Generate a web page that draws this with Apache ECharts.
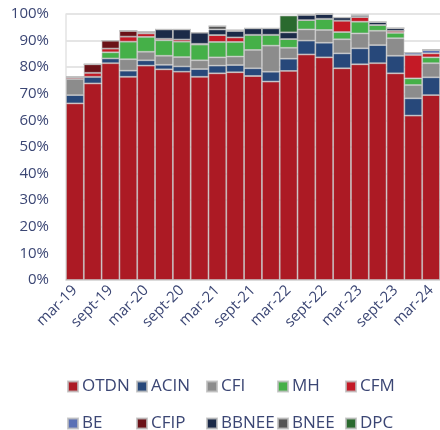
<!DOCTYPE html>
<html>
<head>
<meta charset="utf-8">
<script src="https://cdn.jsdelivr.net/npm/echarts@6/dist/echarts.min.js"></script>
<style>
  html, body { margin: 0; padding: 0; background: #fff; }
  #main { width: 440px; height: 430px; }
</style>
</head>
<body>
<div id="main"></div>
<script>
var periods = ["mar-19", "jun-19", "sept-19", "dec-19", "mar-20", "jun-20", "sept-20", "dec-20",
  "mar-21", "jun-21", "sept-21", "dec-21", "mar-22", "jun-22", "sept-22", "dec-22",
  "mar-23", "jun-23", "sept-23", "dec-23", "mar-24"];

// shares in %
var otdn  = [66.4, 73.9, 81.5, 76.4, 80.6, 79.2, 78.3, 76.4, 77.7, 78.1, 76.7, 74.6, 78.6, 84.8, 83.7, 79.6, 81.1, 81.5, 77.7, 61.8, 69.5];
var acin  = [3.1, 2.5, 1.8, 2.3, 2.0, 1.7, 2.0, 2.9, 2.9, 2.7, 2.9, 3.7, 4.6, 5.2, 5.5, 5.6, 6.0, 6.8, 6.6, 6.5, 6.7];
var cfi   = [6.1, 0, 0, 4.3, 3.2, 3.4, 3.5, 3.3, 3.1, 3.2, 6.9, 9.8, 4.1, 4.2, 4.8, 5.3, 5.6, 5.4, 6.6, 5.0, 5.3];
var mh    = [0, 0, 2.3, 6.6, 5.6, 5.8, 5.8, 5.9, 5.8, 5.5, 5.7, 4.1, 3.3, 3.5, 4.2, 2.7, 4.4, 2.2, 2.0, 2.5, 2.2];
var cfm   = [0.7, 1.5, 1.4, 1.9, 1.3, 0.6, 0.8, 0.3, 2.6, 1.7, 0, 0, 0, 0, 0, 4.3, 1.8, 0, 0.8, 8.8, 1.5];
var be    = [0, 0, 0, 0, 0, 0, 0, 0, 0, 0, 0, 0, 0, 0, 0, 0, 0, 0, 0, 0.9, 1.3];
var cfip  = [0, 3.2, 3.0, 2.2, 0.6, 0, 0, 0, 0, 0, 0, 0, 0, 0, 0, 0, 0, 0, 0, 0, 0];
var bbnee = [0, 0, 0, 0, 0, 3.5, 3.8, 4.2, 2.1, 2.4, 2.4, 2.4, 2.5, 2.0, 1.8, 1.2, 0.7, 1.1, 1.0, 0, 0];
var bnee  = [0, 0, 0, 0, 0, 0, 0, 0, 1.3, 0.4, 0, 0, 0, 0, 0, 0, 0, 0, 0, 0, 0];
var dpc   = [0, 0, 0, 0, 0, 0, 0, 0, 0, 0, 0, 0, 6.3, 0, 0, 0, 0, 0, 0, 0, 0];

var names  = ["OTDN", "ACIN", "CFI", "MH", "CFM", "BE", "CFIP", "BBNEE", "BNEE", "DPC"];
var values = [otdn, acin, cfi, mh, cfm, be, cfip, bbnee, bnee, dpc];
var colors = ["#ac1a24", "#27487a", "#8c8c8c", "#45b048", "#c41a26", "#5a70b5", "#6b1218", "#1b2a48", "#555555", "#2a6a2e"];

var textColor = "#3b4674";

var series = names.map(function (n, i) {
  return {
    name: n,
    type: "bar",
    stack: "total",
    barCategoryGap: 0,
    data: values[i],
    itemStyle: { color: colors[i], borderColor: "rgba(190,190,190,0.8)", borderWidth: 0.8 }
  };
});

// legend laid out as a 5 x 2 grid, one small legend per item
var legendCols = [62, 131, 201, 272, 340];
var legends = names.map(function (n, i) {
  return {
    data: [n],
    left: legendCols[i % 5],
    top: i < 5 ? 373 : 410,
    icon: "rect",
    itemWidth: 10,
    itemHeight: 10,
    selectedMode: false,
    textStyle: { color: textColor, fontSize: 17, fontFamily: "Open Sans", padding: [0, 0, 0, -1] }
  };
});

var chart = echarts.init(document.getElementById("main"));
chart.setOption({
  animation: false,
  color: colors,
  grid: { left: 66, right: 0, top: 14, bottom: 150 },
  legend: legends,
  xAxis: {
    type: "category",
    data: periods,
    axisLine: { lineStyle: { color: "#d9d9d9", width: 1.5 } },
    axisTick: { interval: 0, length: 4, lineStyle: { color: "#d0d0d0" } },
    axisLabel: { interval: 1, rotate: 45, color: textColor, fontSize: 15, fontFamily: "Open Sans", margin: 8 }
  },
  yAxis: {
    type: "value",
    min: 0,
    max: 100,
    interval: 10,
    axisLine: { show: true, lineStyle: { color: "#e3e3e3", width: 1.5 } },
    splitLine: { lineStyle: { color: "#dcdcdc", width: 1.5 } },
    axisLabel: { formatter: "{value}%", color: textColor, fontSize: 15, fontFamily: "Open Sans", margin: 17 }
  },
  series: series
});
</script>
</body>
</html>
